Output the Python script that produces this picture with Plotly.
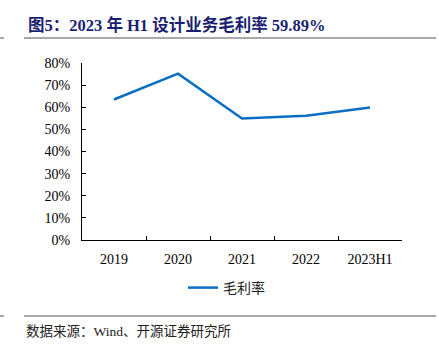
import plotly.graph_objects as go

categories = ["2019", "2020", "2021", "2022", "2023H1"]
gross_margin = [0.635, 0.752, 0.549, 0.562, 0.5989]
series_name = "毛利率"
title_text = "图5：2023 年 H1 设计业务毛利率 59.89%"
source_text = "数据来源：Wind、开源证券研究所"

W, H = 439, 352
L, R, T, B = 82, 402, 63, 240

def px(x):
    return (x - L) / (R - L)

def py(y):
    return (B - y) / (B - T)

serif = "Liberation Serif, Times New Roman, Noto Sans CJK SC, serif"

fig = go.Figure()
fig.add_trace(go.Scatter(
    x=categories, y=gross_margin, mode="lines", name=series_name,
    line=dict(color="#0A6FC2", width=2.5),
))

fig.update_layout(
    width=W, height=H,
    margin=dict(l=L, r=W - R, t=T, b=H - B),
    paper_bgcolor="white", plot_bgcolor="white",
    font=dict(family=serif, size=14, color="black"),
    showlegend=True,
    legend=dict(orientation="h", x=px(183), y=py(288), xanchor="left", yanchor="middle",
                font=dict(family="Noto Sans CJK SC, sans-serif", size=14, color="#222"),
                bgcolor="rgba(0,0,0,0)", itemwidth=30),
    xaxis=dict(type="category", range=[-0.5, 4.5], showline=True, linecolor="black", linewidth=1,
               ticks="inside", ticklen=4, tickcolor="black", tickson="boundaries",
               showgrid=False, zeroline=False, ticklabelstandoff=6,
               tickfont=dict(family=serif, size=14)),
    yaxis=dict(range=[0, 0.8], dtick=0.1, tickformat=".0%", showline=True, linecolor="black",
               linewidth=1, ticks="inside", ticklen=4, tickcolor="black", showgrid=False,
               zeroline=False, ticklabelstandoff=8, tickfont=dict(family=serif, size=14)),
    shapes=[
        dict(type="line", xref="paper", yref="paper", x0=px(24), x1=px(436), y0=py(38), y1=py(38),
             line=dict(color="#8C8C8C", width=1.5)),
        dict(type="line", xref="paper", yref="paper", x0=px(0), x1=px(4), y0=py(38), y1=py(38),
             line=dict(color="#8C8C8C", width=1.5)),
        dict(type="line", xref="paper", yref="paper", x0=px(24), x1=px(436), y0=py(316), y1=py(316),
             line=dict(color="#8C8C8C", width=1.5)),
        dict(type="line", xref="paper", yref="paper", x0=px(0), x1=px(4), y0=py(316), y1=py(316),
             line=dict(color="#8C8C8C", width=1.5)),
    ],
    annotations=[
        dict(text="<b>" + title_text + "</b>", xref="paper", yref="paper", x=px(26), y=py(25),
             xanchor="left", yanchor="middle", showarrow=False,
             font=dict(family=serif, size=16.5, color="#1B1F72")),
        dict(text=source_text, xref="paper", yref="paper", x=px(24), y=py(331),
             xanchor="left", yanchor="middle", showarrow=False,
             font=dict(family=serif, size=13.5, color="#222")),
    ],
)

fig.write_html("out.html")
